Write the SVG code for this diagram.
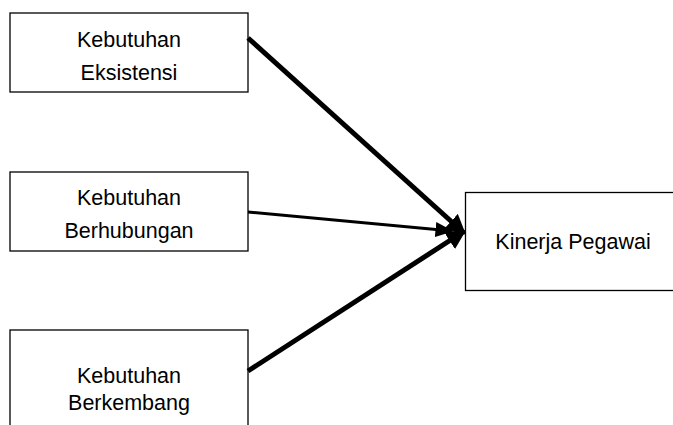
<svg xmlns="http://www.w3.org/2000/svg" width="673" height="425" viewBox="0 0 673 425">
<style>
.box{fill:#fff;stroke:#000;stroke-width:1.3}
.t{font-family:"Liberation Sans",Arial,sans-serif;font-size:21.5px;fill:#000;text-anchor:middle}
.c{stroke:#000;fill:none}
</style>
<defs>
<marker id="ah" markerWidth="4" markerHeight="4" refX="3.2" refY="2" orient="auto" markerUnits="strokeWidth">
<path d="M0,0 L4,2 L0,4 Z" fill="#000"/>
</marker>
<marker id="ah2" markerWidth="6" markerHeight="5" refX="5.5" refY="2.5" orient="auto" markerUnits="strokeWidth">
<path d="M0,0 L6,2.5 L0,5 Z" fill="#000"/>
</marker>
</defs>
<g id="node-eksistensi">
<rect class="box" x="10" y="13" width="238" height="79"/>
<text class="t" x="129" y="47">Kebutuhan</text>
<text class="t" x="129" y="80">Eksistensi</text>
</g>
<g id="node-berhubungan">
<rect class="box" x="10" y="172" width="238" height="79"/>
<text class="t" x="129" y="205">Kebutuhan</text>
<text class="t" x="129" y="238">Berhubungan</text>
</g>
<g id="node-berkembang">
<rect class="box" x="10" y="330" width="238" height="110"/>
<text class="t" x="129" y="383">Kebutuhan</text>
<text class="t" x="129" y="410">Berkembang</text>
</g>
<g id="node-kinerja">
<rect class="box" x="465.5" y="192.5" width="220" height="98"/>
<text class="t" x="573" y="249">Kinerja Pegawai</text>
</g>
<g id="connectors">
<line class="c" x1="248" y1="38" x2="463" y2="232" stroke-width="5" marker-end="url(#ah)"/>
<line class="c" x1="248" y1="212" x2="452" y2="231" stroke-width="3" marker-end="url(#ah2)"/>
<line class="c" x1="248" y1="371" x2="463" y2="232" stroke-width="5" marker-end="url(#ah)"/>
</g>
</svg>
